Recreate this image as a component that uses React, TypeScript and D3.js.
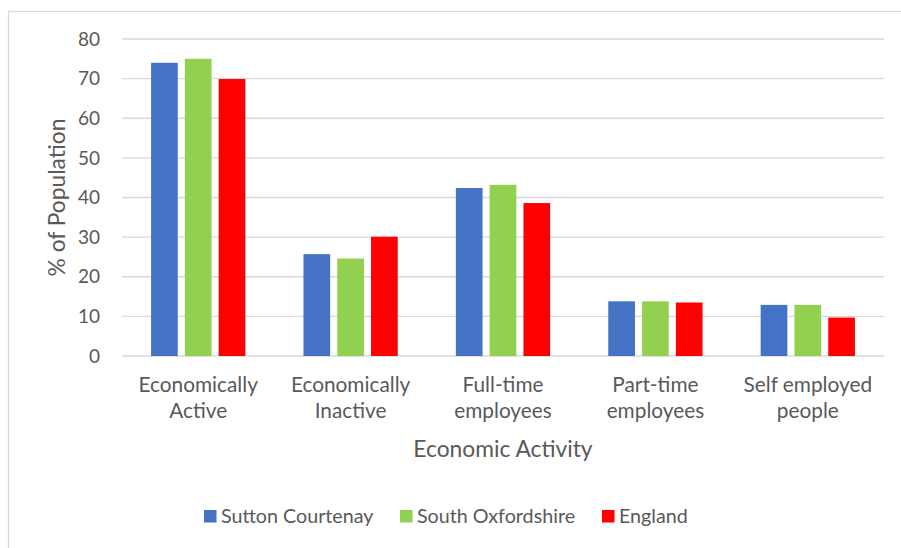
import React from 'react';
import * as d3 from 'd3';

const categories = [
  ['Economically', 'Active'],
  ['Economically', 'Inactive'],
  ['Full-time', 'employees'],
  ['Part-time', 'employees'],
  ['Self employed', 'people'],
];
const seriesNames = ['Sutton Courtenay', 'South Oxfordshire', 'England'];
const suttonCourtenay = [74.0, 25.7, 42.4, 13.8, 12.9];
const southOxfordshire = [75.0, 24.6, 43.2, 13.8, 12.9];
const england = [69.9, 30.1, 38.6, 13.5, 9.7];
const yTicks = [0, 10, 20, 30, 40, 50, 60, 70, 80];
const colors = ['#4472C4', '#92D050', '#FF0000'];

const W = 901;
const H = 548;
const plot = { left: 122, right: 884, top: 39, bottom: 356 };
const font = 'Lato, "Open Sans", sans-serif';
const textColor = '#595959';

export default function App() {
  const series = [suttonCourtenay, southOxfordshire, england];
  const keys = categories.map((c) => c.join(' '));

  const x = d3.scaleBand<string>().domain(keys).range([plot.left, plot.right]).padding(0);
  const xi = d3
    .scaleBand<string>()
    .domain(seriesNames)
    .range([0, x.bandwidth()])
    .paddingInner(0.21)
    .paddingOuter(0.86);
  const y = d3.scaleLinear().domain([0, 80]).range([plot.bottom, plot.top]);

  // legend layout (square + label, in a centred row)
  const legendX = [204, 400, 602];

  return (
    <div style={{ position: 'absolute', left: 0, top: 0 }}>
      <svg width={W} height={H} style={{ display: 'block', background: '#fff' }} fontFamily={font}>
        <rect x={8.5} y={11.5} width={W} height={H} fill="#fff" stroke="#d9d9d9" strokeWidth={1.3} />

        {yTicks.map((t) => (
          <g key={t}>
            <line
              x1={plot.left}
              x2={plot.right}
              y1={y(t)}
              y2={y(t)}
              stroke="#d9d9d9"
              strokeWidth={1.3}
            />
            <text
              x={100}
              y={y(t)}
              dy="0.35em"
              textAnchor="end"
              fontSize={19}
              fill={textColor}
            >
              {t}
            </text>
          </g>
        ))}

        {keys.map((k, ci) => (
          <g key={k} transform={`translate(${x(k)},0)`}>
            {seriesNames.map((s, si) => {
              const v = series[si][ci];
              return (
                <rect
                  key={s}
                  x={xi(s)}
                  y={y(v)}
                  width={xi.bandwidth()}
                  height={y(0) - y(v)}
                  fill={colors[si]}
                />
              );
            })}
            {categories[ci].map((line, li) => (
              <text
                key={li}
                x={x.bandwidth() / 2}
                y={392 + li * 26}
                textAnchor="middle"
                fontSize={20.8}
                fill={textColor}
              >
                {line}
              </text>
            ))}
          </g>
        ))}

        <text
          x={(plot.left + plot.right) / 2}
          y={457}
          textAnchor="middle"
          fontSize={22.8}
          fill={textColor}
        >
          Economic Activity
        </text>
        <text
          transform={`translate(65,${(plot.top + plot.bottom) / 2}) rotate(-90)`}
          textAnchor="middle"
          fontSize={22.8}
          fill={textColor}
        >
          % of Population
        </text>

        {seriesNames.map((s, si) => (
          <g key={s} transform={`translate(${legendX[si]},510)`}>
            <rect x={0} y={0} width={12.5} height={12.5} fill={colors[si]} />
            <text x={17} y={6.5} dy="0.35em" fontSize={19.7} fill={textColor}>
              {s}
            </text>
          </g>
        ))}
      </svg>
    </div>
  );
}
